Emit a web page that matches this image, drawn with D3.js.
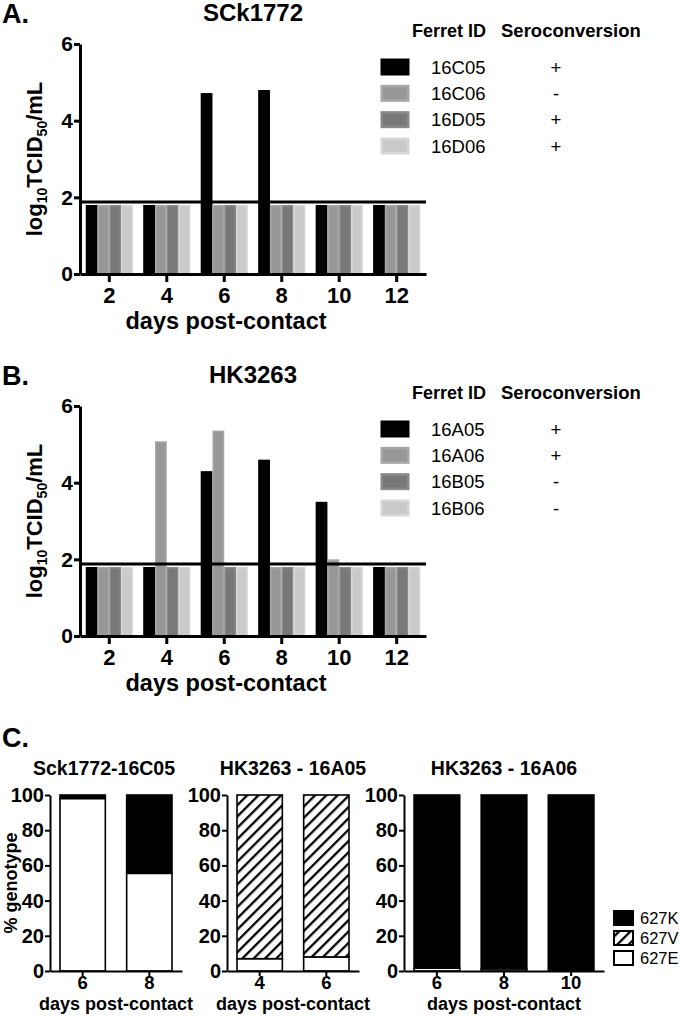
<!DOCTYPE html>
<html>
<head>
<meta charset="utf-8">
<script src="https://cdn.jsdelivr.net/npm/d3@7"></script>
<style>
body { margin: 0; background: #fff; }
text { font-family: "Liberation Sans", Arial, sans-serif; }
</style>
</head>
<body>
<script>
// ---- data ----
const days = [2, 4, 6, 8, 10, 12];
const yTicks = [0, 2, 4, 6];
const detectionLimit = 1.88;

const sckFerrets = ["16C05", "16C06", "16D05", "16D06"];
const sckSero = ["+", "-", "+", "+"];
const sckTiters = [
    [1.8, 1.8, 4.72, 4.8, 1.8, 1.8],
    [1.8, 1.8, 1.8, 1.8, 1.8, 1.8],
    [1.8, 1.8, 1.8, 1.8, 1.8, 1.8],
    [1.8, 1.8, 1.8, 1.8, 1.8, 1.8]
];

const hkFerrets = ["16A05", "16A06", "16B05", "16B06"];
const hkSero = ["+", "+", "-", "-"];
const hkTiters = [
    [1.8, 1.8, 4.3, 4.6, 3.5, 1.8],
    [1.8, 5.08, 5.36, 1.8, 2.0, 1.8],
    [1.8, 1.8, 1.8, 1.8, 1.8, 1.8],
    [1.8, 1.8, 1.8, 1.8, 1.8, 1.8]
];

const ferretFill = ["#000000", "#979797", "#787878", "#cacaca"];
const ferretEdge = ["#000000", "#a8a8a8", "#8a8a8a", "#d6d6d6"];

const genotypes = ["627K", "627V", "627E"];
const pctTicks = [0, 20, 40, 60, 80, 100];

const c1Days = [6, 8];
const c1E = [98, 55.5];
const c1V = [0, 0];
const c1K = [2, 44.5];

const c2Days = [4, 6];
const c2E = [7, 8];
const c2V = [93, 92];
const c2K = [0, 0];

const c3Days = [6, 8, 10];
const c3E = [1.6, 1.2, 0];
const c3V = [0, 0, 0];
const c3K = [98.4, 98.8, 100];

// ---- drawing ----
const svg = d3.select("body").append("svg")
    .attr("width", 680)
    .attr("height", 1016);

const defs = svg.append("defs");
const hatch = defs.append("pattern")
    .attr("id", "hatch")
    .attr("patternUnits", "userSpaceOnUse")
    .attr("width", 8)
    .attr("height", 8)
    .attr("patternTransform", "rotate(-45)");
hatch.append("rect").attr("width", 8).attr("height", 8).attr("fill", "#fff");
hatch.append("rect").attr("width", 8).attr("height", 2.3).attr("fill", "#000");

function styleAxis(a, size) {
    a.attr("font-family", "'Liberation Sans', Arial, sans-serif")
        .attr("font-size", size)
        .attr("font-weight", "bold");
    a.selectAll("text").attr("fill", "#000");
}

function titerPanel(top, letter, title, ferrets, sero, titers) {
    var g = svg.append("g").attr("transform", `translate(0, ${top})`);

    var y = d3.scaleLinear().domain([0, 6]).range([274, 44]);
    var x = d3.scaleBand().domain(days).range([80, 426])
        .paddingInner(0.18).paddingOuter(0.1);
    var xi = d3.scaleBand().domain(ferrets).range([0, x.bandwidth()]);

    ferrets.forEach((f, k) => {
        g.append("g").selectAll("rect")
            .data(titers[k])
            .join("rect")
            .attr("x", (d, i) => x(days[i]) + xi(f) + 0.75)
            .attr("y", d => y(d) + 0.75)
            .attr("width", xi.bandwidth() - 1.5)
            .attr("height", d => y(0) - y(d) - 0.75)
            .attr("fill", ferretFill[k])
            .attr("stroke", ferretEdge[k])
            .attr("stroke-width", 1.5);
    });

    // limit of detection
    g.append("line")
        .attr("x1", 80).attr("x2", 426)
        .attr("y1", y(detectionLimit)).attr("y2", y(detectionLimit))
        .attr("stroke", "#000").attr("stroke-width", 3);

    var ya = g.append("g").attr("transform", "translate(80, 0)")
        .call(d3.axisLeft(y).tickValues(yTicks).tickFormat(d3.format("d"))
            .tickSize(6).tickSizeOuter(0).tickPadding(1));
    styleAxis(ya, 21);
    ya.selectAll("path, line").attr("stroke-width", 3);

    var xa = g.append("g").attr("transform", `translate(0, ${y(0)})`)
        .call(d3.axisBottom(x).tickSize(8).tickSizeOuter(0).tickPadding(5));
    styleAxis(xa, 22);
    xa.selectAll("path, line").attr("stroke-width", 3);

    g.append("text").attr("x", 2).attr("y", 23)
        .attr("font-size", 27).attr("font-weight", "bold").text(letter);
    g.append("text").attr("x", 253).attr("y", 21).attr("text-anchor", "middle")
        .attr("font-size", 24).attr("font-weight", "bold").text(title);

    g.append("text").attr("x", 226).attr("y", 329).attr("text-anchor", "middle")
        .attr("font-size", 23.5).attr("font-weight", "bold").text("days post-contact");

    var yl = g.append("text")
        .attr("transform", "translate(42, 159) rotate(-90)")
        .attr("text-anchor", "middle")
        .attr("font-size", 22).attr("font-weight", "bold");
    yl.append("tspan").text("log");
    yl.append("tspan").attr("font-size", 14).attr("dy", 5).text("10");
    yl.append("tspan").attr("dy", -5).text("TCID");
    yl.append("tspan").attr("font-size", 14).attr("dy", 5).text("50");
    yl.append("tspan").attr("dy", -5).text("/mL");

    // legend
    var lg = g.append("g");
    lg.append("text").attr("x", 412).attr("y", 37)
        .attr("font-size", 18).attr("font-weight", "bold").text("Ferret ID");
    lg.append("text").attr("x", 501).attr("y", 37)
        .attr("font-size", 18.5).attr("font-weight", "bold").text("Seroconversion");

    var ly = d3.scalePoint().domain(ferrets).range([67, 146]);
    var rows = lg.selectAll("g.row").data(ferrets).join("g")
        .attr("class", "row")
        .attr("transform", d => `translate(0, ${ly(d)})`);
    rows.append("rect")
        .attr("x", 381.75).attr("y", -7.25)
        .attr("width", 26.5).attr("height", 14.5)
        .attr("fill", (d, i) => ferretFill[i])
        .attr("stroke", (d, i) => ferretEdge[i])
        .attr("stroke-width", 2.5);
    rows.append("text").attr("x", 431).attr("y", 6.5)
        .attr("font-size", 18.5).text(d => d);
    rows.append("text").attr("x", 556).attr("y", 6.5).attr("text-anchor", "middle")
        .attr("font-size", 18.5).text((d, i) => sero[i]);
}

titerPanel(0, "A.", "SCk1772", sckFerrets, sckSero, sckTiters);
titerPanel(362, "B.", "HK3263", hkFerrets, hkSero, hkTiters);

// ---- panel C ----
svg.append("text").attr("x", 2).attr("y", 747)
    .attr("font-size", 27).attr("font-weight", "bold").text("C.");

const genoFill = { "627K": "#000", "627V": "url(#hatch)", "627E": "#fff" };

function genoPanel(x0, width, title, titleX, dd, E, V, K) {
    var g = svg.append("g");
    var y = d3.scaleLinear().domain([0, 100]).range([971, 795]);
    var x = d3.scaleBand().domain(dd).range([x0, x0 + width])
        .paddingInner(0.32).paddingOuter(0.15);

    var rows = dd.map((d, i) => ({ day: d, "627E": E[i], "627V": V[i], "627K": K[i] }));
    var series = d3.stack().keys(["627E", "627V", "627K"])(rows);

    g.selectAll("g.s").data(series).join("g")
        .attr("class", "s")
        .attr("fill", s => genoFill[s.key])
        .selectAll("rect")
        .data(s => s.filter(p => p[1] > p[0]))
        .join("rect")
        .attr("x", p => x(p.data.day))
        .attr("y", p => y(p[1]))
        .attr("width", x.bandwidth())
        .attr("height", p => y(p[0]) - y(p[1]))
        .attr("stroke", "#000")
        .attr("stroke-width", 1.6);

    var ya = g.append("g").attr("transform", `translate(${x0}, 0)`)
        .call(d3.axisLeft(y).tickValues(pctTicks).tickSize(5).tickSizeOuter(0).tickPadding(1));
    styleAxis(ya, 20);
    ya.selectAll("path, line").attr("stroke-width", 2);

    var xa = g.append("g").attr("transform", `translate(0, ${y(0)})`)
        .call(d3.axisBottom(x).tickSize(5).tickSizeOuter(0).tickPadding(0));
    styleAxis(xa, 18.5);
    xa.selectAll("path, line").attr("stroke-width", 2);

    g.append("text").attr("x", titleX).attr("y", 775).attr("text-anchor", "middle")
        .attr("font-size", 19.5).attr("font-weight", "bold").text(title);
    g.append("text").attr("x", x0 + width / 2).attr("y", 1010).attr("text-anchor", "middle")
        .attr("font-size", 18).attr("font-weight", "bold").text("days post-contact");
}

genoPanel(50, 132, "Sck1772-16C05", 104, c1Days, c1E, c1V, c1K);
genoPanel(227, 132, "HK3263 - 16A05", 293, c2Days, c2E, c2V, c2K);
genoPanel(404, 200, "HK3263 - 16A06", 504, c3Days, c3E, c3V, c3K);

svg.append("text")
    .attr("transform", "translate(17, 883) rotate(-90)")
    .attr("text-anchor", "middle")
    .attr("font-size", 18).attr("font-weight", "bold")
    .text("% genotype");

// genotype legend
const gl = d3.scalePoint().domain(genotypes).range([918, 958]);
const glRows = svg.append("g").selectAll("g").data(genotypes).join("g")
    .attr("transform", d => `translate(0, ${gl(d)})`);
glRows.append("rect")
    .attr("x", 614).attr("y", -7)
    .attr("width", 19).attr("height", 14)
    .attr("fill", d => genoFill[d])
    .attr("stroke", "#000").attr("stroke-width", 2);
glRows.append("text").attr("x", 640).attr("y", 6)
    .attr("font-size", 16.5).text(d => d);
</script>
</body>
</html>
